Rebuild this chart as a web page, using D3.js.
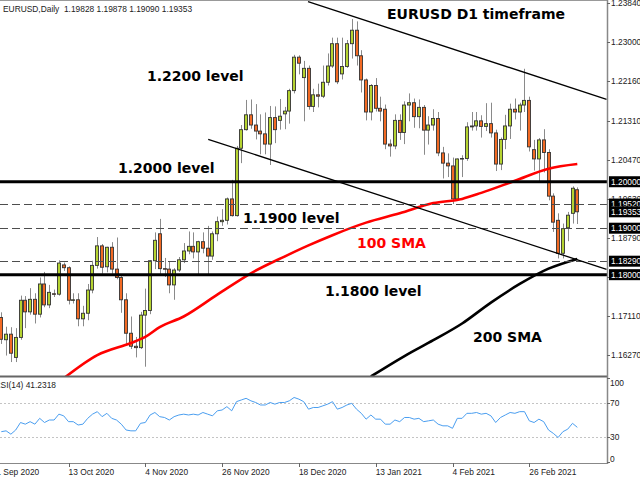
<!DOCTYPE html>
<html><head><meta charset="utf-8">
<script src="https://cdn.jsdelivr.net/npm/d3@7/dist/d3.min.js"></script>
<style>
html,body{margin:0;padding:0;background:#fff;overflow:hidden;}
svg{display:block;}
</style></head><body>
<svg id="c" width="640" height="480"></svg>
<script>
// ---------------- DATA ----------------
const dates = [
"2020-09-23","2020-09-24","2020-09-25","2020-09-28","2020-09-29","2020-09-30",
"2020-10-01","2020-10-02","2020-10-05","2020-10-06","2020-10-07","2020-10-08","2020-10-09","2020-10-12","2020-10-13","2020-10-14","2020-10-15","2020-10-16","2020-10-19","2020-10-20","2020-10-21","2020-10-22","2020-10-23","2020-10-26","2020-10-27","2020-10-28","2020-10-29","2020-10-30",
"2020-11-02","2020-11-03","2020-11-04","2020-11-05","2020-11-06","2020-11-09","2020-11-10","2020-11-11","2020-11-12","2020-11-13","2020-11-16","2020-11-17","2020-11-18","2020-11-19","2020-11-20","2020-11-23","2020-11-24","2020-11-25","2020-11-26","2020-11-27","2020-11-30",
"2020-12-01","2020-12-02","2020-12-03","2020-12-04","2020-12-07","2020-12-08","2020-12-09","2020-12-10","2020-12-11","2020-12-14","2020-12-15","2020-12-16","2020-12-17","2020-12-18","2020-12-21","2020-12-22","2020-12-23","2020-12-24","2020-12-28","2020-12-29","2020-12-30","2020-12-31",
"2021-01-04","2021-01-05","2021-01-06","2021-01-07","2021-01-08","2021-01-11","2021-01-12","2021-01-13","2021-01-14","2021-01-15","2021-01-18","2021-01-19","2021-01-20","2021-01-21","2021-01-22","2021-01-25","2021-01-26","2021-01-27","2021-01-28","2021-01-29",
"2021-02-01","2021-02-02","2021-02-03","2021-02-04","2021-02-05","2021-02-08","2021-02-09","2021-02-10","2021-02-11","2021-02-12","2021-02-15","2021-02-16","2021-02-17","2021-02-18","2021-02-19","2021-02-22","2021-02-23","2021-02-24","2021-02-25","2021-02-26",
"2021-03-01","2021-03-02","2021-03-03","2021-03-04","2021-03-05","2021-03-08","2021-03-09","2021-03-10","2021-03-11","2021-03-12"];

const open = [
1.1708,1.1660,1.1672,1.1622,1.1665,1.1745,1.1720,1.1747,1.1715,1.1780,
1.1735,1.1759,1.1758,1.1821,1.1815,1.1745,1.1746,1.1705,1.1717,1.1767,
1.1820,1.1862,1.1817,1.1859,1.1812,1.1794,1.1746,1.1674,1.1646,1.1643,
1.1713,1.1723,1.1830,1.1888,1.1813,1.1812,1.1778,1.1810,1.1832,1.1851,
1.1861,1.1849,1.1871,1.1857,1.1840,1.1888,1.1914,1.1917,1.1963,1.1927,
1.2072,1.2112,1.2144,1.2122,1.2109,1.2103,1.2081,1.2138,1.2132,1.2146,
1.2152,1.2196,1.2268,1.2224,1.2244,1.2162,1.2187,1.2184,1.2214,1.2249,
1.2297,1.2232,1.2248,1.2297,1.2326,1.2271,1.2219,1.2150,1.2207,1.2158,
1.2156,1.2081,1.2077,1.2132,1.2106,1.2165,1.2170,1.2140,1.2160,1.2111,
1.2122,1.2136,1.2062,1.2040,1.2034,1.1963,1.2049,1.2050,1.2118,1.2120,
1.2131,1.2119,1.2125,1.2105,1.2038,1.2091,1.2120,1.2156,1.2150,1.2165,
1.2175,1.2069,1.2049,1.2090,1.2063,1.1969,1.1917,1.1846,1.1901,1.1932,
1.19828];
const high = [
1.1719,1.1688,1.1687,1.1685,1.1755,1.1754,1.1771,1.1760,1.1794,1.1806,
1.1778,1.1768,1.1831,1.1826,1.1818,1.1760,1.1760,1.1733,1.1780,1.1830,
1.1881,1.1866,1.1860,1.1870,1.1880,1.1797,1.1760,1.1710,1.1666,1.1720,
1.1770,1.1831,1.1891,1.1920,1.1836,1.1829,1.1814,1.1838,1.1868,1.1893,
1.1891,1.1873,1.1891,1.1905,1.1893,1.1925,1.1941,1.1966,1.2004,1.2077,
1.2122,1.2176,1.2177,1.2167,1.2145,1.2149,1.2163,1.2162,1.2178,1.2161,
1.2200,1.2273,1.2272,1.2260,1.2250,1.2200,1.2211,1.2250,1.2276,1.2310,
1.2310,1.2310,1.2305,1.2350,1.2345,1.2283,1.2222,1.2210,1.2223,1.2183,
1.2166,1.2091,1.2145,1.2145,1.2173,1.2190,1.2179,1.2177,1.2165,1.2141,
1.2156,1.2150,1.2075,1.2061,1.2052,1.2050,1.2057,1.2128,1.2150,1.2150,
1.2143,1.2169,1.2170,1.2112,1.2095,1.2144,1.2168,1.2179,1.2170,1.2243,
1.2183,1.2090,1.2094,1.2113,1.2070,1.1975,1.1932,1.1910,1.1935,1.1990,
1.19878];
const low = [
1.1651,1.1626,1.1612,1.1612,1.1660,1.1685,1.1714,1.1695,1.1708,1.1730,
1.1728,1.1752,1.1755,1.1808,1.1736,1.1738,1.1689,1.1689,1.1702,1.1760,
1.1813,1.1802,1.1805,1.1802,1.1790,1.1718,1.1650,1.1640,1.1622,1.1640,
1.1602,1.1715,1.1812,1.1800,1.1795,1.1760,1.1746,1.1806,1.1825,1.1844,
1.1835,1.1801,1.1846,1.1800,1.1832,1.1872,1.1905,1.1908,1.1925,1.1925,
1.2040,1.2110,1.2114,1.2091,1.2059,1.2059,1.2036,1.2083,1.2112,1.2113,
1.2125,1.2190,1.2231,1.2130,1.2155,1.2150,1.2160,1.2180,1.2207,1.2245,
1.2210,1.2220,1.2245,1.2265,1.2250,1.2192,1.2132,1.2132,1.2151,1.2130,
1.2070,1.2054,1.2070,1.2090,1.2081,1.2130,1.2116,1.2115,1.2058,1.2080,
1.2110,1.2055,1.2007,1.2010,1.1952,1.1960,1.2010,1.2045,1.2110,1.2110,
1.2095,1.2109,1.2095,1.2023,1.2025,1.2070,1.2092,1.2134,1.2110,1.2150,
1.2065,1.2024,1.2000,1.2020,1.1960,1.1892,1.1835,1.1835,1.1872,1.1910,
1.19090];
const close = [
1.1661,1.1672,1.1631,1.1665,1.1745,1.1720,1.1747,1.1715,1.1780,1.1735,
1.1762,1.1758,1.1825,1.1815,1.1745,1.1746,1.1705,1.1717,1.1767,1.1820,
1.1862,1.1816,1.1859,1.1812,1.1794,1.1746,1.1674,1.1646,1.1643,1.1713,
1.1723,1.1830,1.1874,1.1813,1.1812,1.1778,1.1810,1.1832,1.1851,1.1861,
1.1849,1.1871,1.1857,1.1840,1.1888,1.1914,1.1917,1.1963,1.1927,1.2072,
1.2112,1.2144,1.2122,1.2109,1.2103,1.2081,1.2138,1.2112,1.2141,1.2152,
1.2196,1.2268,1.2255,1.2244,1.2162,1.2187,1.2184,1.2214,1.2249,1.2297,
1.2215,1.2248,1.2297,1.2326,1.2271,1.2219,1.2150,1.2207,1.2158,1.2152,
1.2081,1.2077,1.2132,1.2106,1.2165,1.2170,1.2140,1.2160,1.2111,1.2122,
1.2136,1.2062,1.2040,1.2034,1.1963,1.2049,1.2050,1.2118,1.2120,1.2131,
1.2119,1.2125,1.2105,1.2038,1.2091,1.2120,1.2156,1.2150,1.2165,1.2175,
1.2075,1.2049,1.2090,1.2063,1.1969,1.1913,1.1846,1.1899,1.1928,1.1986,
1.19353];

const rsi = [
36,37,33,38,47,45,48,45,52,47,
50,50,57,55,48,48,44,45,52,57,
60,54,58,52,50,45,38,37,37,46,
47,56,59,54,53,50,54,56,57,56,
57,56,59,57,55,61,62,66,61,72,
74,76,73,71,68,68,71,69,71,71,
73,77,75,72,63,65,65,67,69,72,
63,65,68,70,63,58,51,56,51,51,
45,45,50,48,53,53,51,52,48,49,
50,45,43,43,40,52,52,58,58,59,
57,58,55,47,53,56,59,58,60,60,
49,47,51,48,38,34,29,36,39,46,
41.2318];

// moving averages (bar index, value)
const sma100Idx = [13,20,27,30,33,38,45,52,59,64,69,76,83,90,96,100,107,114,120];
const sma100Val = [1.1577,1.1627,1.1653,1.1666,1.1687,1.1710,1.1757,1.1803,1.1839,1.1863,1.1885,1.1912,1.1932,1.1954,1.1963,1.1976,1.2002,1.2028,1.2038];
const sma200Idx = [77,84,90,96,102,108,114,120];
const sma200Val = [1.1581,1.1625,1.1659,1.1695,1.1740,1.1780,1.1813,1.1834];

// trend lines (bar index, price)
const trendUpper = [[63.9,1.23874],[126.1,1.21774]];
const trendLower = [[43.1,1.20913],[126.1,1.18115]];

const solidLevels = [1.2000, 1.1800];
const dashedLevels = [1.1952, 1.1900, 1.1829];
const boxedLevels = [1.2000, 1.1952, 1.19353, 1.1900, 1.1829, 1.1800];
const priceTicks = [1.2384,1.2300,1.2216,1.2131,1.2047,1.1963,1.1879,1.1795,1.1711,1.1627];

const dateTickIdx = [-2,14,30,46,62,78,94,110];
const dateTickLabels = ["21 Sep 2020","13 Oct 2020","4 Nov 2020","26 Nov 2020","18 Dec 2020","13 Jan 2021","4 Feb 2021","26 Feb 2021"];
const rsiTicks = [100,70,30,0];
const rsiLevels = [70,30];

const headerText = "EURUSD,Daily  1.19828 1.19878 1.19090 1.19353";
const rsiText = "RSI(14) 41.2318";
const noteTexts  = ["EURUSD D1 timeframe","1.2200 level","1.2000 level","1.1900 level","100 SMA","1.1800 level","200 SMA"];
const noteIdx    = [80.35, 30.35, 24.31, 50.35, 74.1, 67.44, 98.27];
const notePrice  = [1.23491, 1.22168, 1.20187, 1.19122, 1.18573, 1.17540, 1.16550];
const noteColors = ["#000","#000","#000","#000","#f00","#000","#000"];

// ---------------- LAYOUT ----------------
const plotRight = 607, priceBottom = 376, rsiTop = 378, rsiBottom = 463;
const svg = d3.select("#c");
const font = "'Liberation Sans', Arial, sans-serif";

const x = d3.scaleLinear().domain([0,120]).range([1.3,577.3]);
const y = d3.scaleLinear().domain([1.1582,1.2391]).range([priceBottom,0]);
const yr = d3.scaleLinear().domain([0,100]).range([461.7,378.3]);

const defs = svg.append("defs");
defs.append("clipPath").attr("id","cp").append("rect").attr("x",0).attr("y",0).attr("width",plotRight).attr("height",priceBottom);
defs.append("clipPath").attr("id","cr").append("rect").attr("x",0).attr("y",rsiTop).attr("width",plotRight).attr("height",rsiBottom-rsiTop);

const gp = svg.append("g").attr("clip-path","url(#cp)");

// candles
const bars = d3.range(open.length).map(i=>({i,o:open[i],h:high[i],l:low[i],c:close[i]}));
const cg = gp.append("g");
cg.selectAll("line.w").data(bars).join("line").attr("class","w")
  .attr("x1",d=>Math.round(x(d.i))+0.5).attr("x2",d=>Math.round(x(d.i))+0.5)
  .attr("y1",d=>y(d.h)).attr("y2",d=>y(d.l))
  .attr("stroke","#8a8a8a").attr("stroke-width",1);
cg.selectAll("rect.b").data(bars).join("rect").attr("class","b")
  .attr("x",d=>Math.round(x(d.i))-1.5).attr("width",3)
  .attr("y",d=>y(Math.max(d.o,d.c)))
  .attr("height",d=>Math.max(0.6,Math.abs(y(d.o)-y(d.c))))
  .attr("fill",d=>d.c>=d.o?"#b5d331":"#f26a24")
  .attr("stroke","#333").attr("stroke-width",0.9);

// moving averages
const lineGen = d3.line().x(d=>x(d[0])).y(d=>y(d[1])).curve(d3.curveMonotoneX);
gp.append("path").datum(sma100Idx.map((v,k)=>[v,sma100Val[k]])).attr("d",lineGen)
  .attr("fill","none").attr("stroke","#ff0000").attr("stroke-width",2.6);
gp.append("path").datum(sma200Idx.map((v,k)=>[v,sma200Val[k]])).attr("d",lineGen)
  .attr("fill","none").attr("stroke","#000").attr("stroke-width",2.6);

// horizontal levels
gp.selectAll("line.dl").data(dashedLevels).join("line").attr("class","dl")
  .attr("x1",0).attr("x2",plotRight).attr("y1",d=>Math.round(y(d))+0.5).attr("y2",d=>Math.round(y(d))+0.5)
  .attr("stroke","#4d4d4d").attr("stroke-width",1).attr("stroke-dasharray","8,4");
gp.selectAll("line.sl").data(solidLevels).join("line").attr("class","sl")
  .attr("x1",0).attr("x2",plotRight).attr("y1",d=>y(d)).attr("y2",d=>y(d))
  .attr("stroke","#000").attr("stroke-width",3);

// trend lines
[trendUpper,trendLower].forEach(t=>{
  gp.append("line").attr("x1",x(t[0][0])).attr("y1",y(t[0][1])).attr("x2",x(t[1][0])).attr("y2",y(t[1][1]))
    .attr("stroke","#000").attr("stroke-width",1.3);
});

// annotations
noteTexts.forEach((t,k)=>{
  gp.append("text").attr("x",x(noteIdx[k])).attr("y",y(notePrice[k])).text(t)
    .attr("font-family","'DejaVu Sans', Verdana, sans-serif").attr("font-weight","bold")
    .attr("font-size","14px").attr("fill",noteColors[k]);
});

// header
svg.append("text").attr("x",3).attr("y",12).text(headerText)
  .attr("font-family",font).attr("font-size","8.4px").attr("fill","#222").attr("xml:space","preserve")
  .style("white-space","pre");

// panel separators / frame
svg.append("line").attr("x1",0).attr("x2",plotRight).attr("y1",0.5).attr("y2",0.5).attr("stroke","#999");
svg.append("line").attr("x1",0).attr("x2",plotRight).attr("y1",376.5).attr("y2",376.5).attr("stroke","#666").attr("stroke-width",2);
svg.append("line").attr("x1",0).attr("x2",plotRight).attr("y1",463.5).attr("y2",463.5).attr("stroke","#888").attr("stroke-width",1);
svg.append("line").attr("x1",plotRight+0.5).attr("x2",plotRight+0.5).attr("y1",0).attr("y2",464).attr("stroke","#888").attr("stroke-width",1.5);

// price axis labels
const ax = svg.append("g");
priceTicks.forEach(p=>{
  const yy = y(p);
  ax.append("line").attr("x1",plotRight).attr("x2",plotRight+3).attr("y1",Math.round(yy)+0.5).attr("y2",Math.round(yy)+0.5).attr("stroke","#666");
  ax.append("text").attr("x",611).attr("y",yy+3).text(d3.format(".5f")(p))
    .attr("font-family",font).attr("font-size","8.4px").attr("fill","#222");
});
boxedLevels.forEach(p=>{
  const yy = y(p);
  ax.append("rect").attr("x",609).attr("y",yy-5.5).attr("width",36).attr("height",11).attr("fill","#000");
  ax.append("text").attr("x",611).attr("y",yy+3).text(d3.format(".5f")(p))
    .attr("font-family",font).attr("font-size","8.4px").attr("fill","#fff");
});

// RSI panel
const gr = svg.append("g").attr("clip-path","url(#cr)");
gr.selectAll("line.rl").data(rsiLevels).join("line").attr("class","rl")
  .attr("x1",0).attr("x2",plotRight).attr("y1",d=>Math.round(yr(d))+0.5).attr("y2",d=>Math.round(yr(d))+0.5)
  .attr("stroke","#c4c4c4").attr("stroke-dasharray","2,2");
gr.append("path").datum(rsi.map((v,i)=>[i,v]))
  .attr("d",d3.line().x(d=>x(d[0])).y(d=>yr(d[1])))
  .attr("fill","none").attr("stroke","#4a9ef0").attr("stroke-width",1);
svg.append("text").attr("x",-5.5).attr("y",388).text(rsiText)
  .attr("font-family",font).attr("font-size","8.4px").attr("fill","#222");
rsiTicks.forEach(v=>{
  const yy = Math.min(458.5, Math.max(382.5, yr(v)));
  svg.append("line").attr("x1",plotRight).attr("x2",plotRight+3).attr("y1",Math.round(yr(v))+0.5).attr("y2",Math.round(yr(v))+0.5).attr("stroke","#666");
  svg.append("text").attr("x",610).attr("y",yy+3).text(v)
    .attr("font-family",font).attr("font-size","8.4px").attr("fill","#222");
});

// date axis
dateTickIdx.forEach((ix,k)=>{
  const xx = Math.round(x(ix))+0.5;
  svg.append("line").attr("x1",xx).attr("x2",xx).attr("y1",463).attr("y2",467).attr("stroke","#666");
  svg.append("text").attr("x",x(ix)).attr("y",475).text(dateTickLabels[k])
    .attr("font-family",font).attr("font-size","8.4px").attr("fill","#222");
});
</script>
</body></html>
